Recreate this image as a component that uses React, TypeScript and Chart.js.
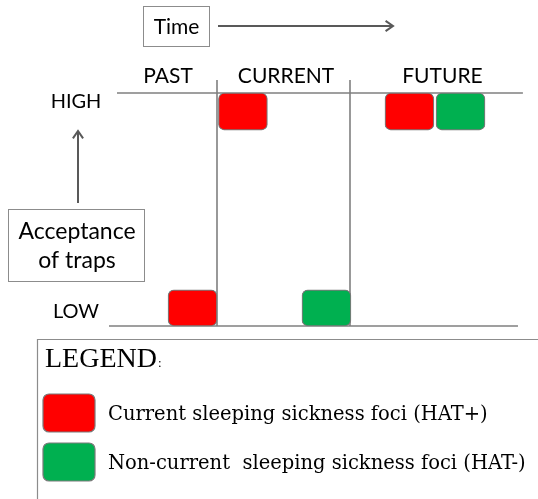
import React, { useEffect, useRef } from 'react';
import { Chart, registerables } from 'chart.js';

Chart.register(...registerables);

// ---- data (x: time, 1 and 2 are the period boundaries; y: acceptance of traps, 0 = LOW, 1 = HIGH)
const periods = ['PAST', 'CURRENT', 'FUTURE'];
const periodLabelX = [0.632, 1.519, 2.695];
const periodBoundaries = [1, 2];
const boundaryTop = 1.056;
const levels = ['LOW', 'HIGH'];
const levelValues = [0, 1];
const highLineX = [0.248, 3.3];
const lowLineX = [0.188, 3.263];

const hatPositiveLabel = 'Current sleeping sickness foci (HAT+)';
const hatPositiveX = [0.816, 1.195, 2.447];
const hatPositiveY = [[0, 0.155], [0.841, 1], [0.841, 1]];

const hatNegativeLabel = 'Non-current  sleeping sickness foci (HAT-)';
const hatNegativeX = [1.823, 2.831];
const hatNegativeY = [[0, 0.155], [0.841, 1]];

const timeTitle = 'Time';
const acceptanceTitle = ['Acceptance', 'of traps'];
const legendTitle = 'LEGEND';

// ---- layout / style
const W = 538;
const H = 499;
const PX_X = 133; // pixels per time unit
const PX_Y = 233; // pixels per acceptance unit
const X_MIN = 1 - 217 / PX_X;
const X_MAX = X_MIN + W / PX_X;
const Y_MAX = 326 / PX_Y;
const Y_MIN = Y_MAX - H / PX_Y;
const RED = '#FF0000';
const GREEN = '#00B050';
const LINE = '#7f7f7f';
const SANS = 'Lato, "Open Sans", sans-serif';
const SERIF = '"DejaVu Serif", "Liberation Serif", serif';
const TITLE_SERIF = '"Liberation Serif", "DejaVu Serif", serif';

function arrow(ctx: CanvasRenderingContext2D, x1: number, y1: number, x2: number, y2: number) {
  const a = Math.atan2(y2 - y1, x2 - x1);
  const L = 9;
  ctx.beginPath();
  ctx.moveTo(x1, y1);
  ctx.lineTo(x2, y2);
  ctx.moveTo(x2 - L * Math.cos(a - 0.6), y2 - L * Math.sin(a - 0.6));
  ctx.lineTo(x2, y2);
  ctx.lineTo(x2 - L * Math.cos(a + 0.6), y2 - L * Math.sin(a + 0.6));
  ctx.stroke();
}

function roundBox(ctx: CanvasRenderingContext2D, x: number, y: number, w: number, h: number, fill: string) {
  ctx.beginPath();
  (ctx as any).roundRect(x, y, w, h, 6);
  ctx.fillStyle = fill;
  ctx.fill();
  ctx.lineWidth = 1.2;
  ctx.strokeStyle = '#7a7a7a';
  ctx.stroke();
}

const annotations = {
  id: 'annotations',
  afterDraw(chart: any) {
    const ctx: CanvasRenderingContext2D = chart.ctx;
    const xs = chart.scales.x;
    const ys = chart.scales.y;
    ctx.save();

    // Time box + arrow
    ctx.strokeStyle = '#8c8c8c';
    ctx.lineWidth = 1;
    ctx.strokeRect(143.5, 6.5, 66, 40);
    ctx.fillStyle = '#000';
    ctx.font = `21px ${SANS}`;
    ctx.textAlign = 'center';
    ctx.textBaseline = 'alphabetic';
    ctx.fillText(timeTitle, 176.5, 34);
    ctx.strokeStyle = '#595959';
    ctx.lineWidth = 2;
    arrow(ctx, 218, 26, 393, 26);

    // period labels
    ctx.fillStyle = '#000';
    ctx.font = `21px ${SANS}`;
    periods.forEach((p, i) => {
      ctx.fillText(p, xs.getPixelForValue(periodLabelX[i]), ys.getPixelForValue(1) - 10);
    });

    // level labels
    ctx.font = `20px ${SANS}`;
    levels.forEach((l, i) => {
      ctx.fillText(l, xs.getPixelForValue(-0.06), ys.getPixelForValue(levelValues[i]) + (i === 1 ? 15 : -8));
    });

    // acceptance arrow + box
    ctx.strokeStyle = '#595959';
    ctx.lineWidth = 2;
    arrow(ctx, 78, 203, 78, 131);
    ctx.strokeStyle = '#8c8c8c';
    ctx.lineWidth = 1;
    ctx.strokeRect(8.5, 209.5, 136, 72);
    ctx.fillStyle = '#000';
    ctx.font = `23px ${SANS}`;
    ctx.fillText(acceptanceTitle[0], 77, 239);
    ctx.fillText(acceptanceTitle[1], 77, 268);

    // legend
    ctx.strokeStyle = '#8c8c8c';
    ctx.lineWidth = 1.2;
    ctx.beginPath();
    ctx.moveTo(37.5, H);
    ctx.lineTo(37.5, 339.5);
    ctx.lineTo(W, 339.5);
    ctx.stroke();
    ctx.textAlign = 'left';
    ctx.font = `28px ${TITLE_SERIF}`;
    ctx.fillText(legendTitle, 45, 367);
    const tw = ctx.measureText(legendTitle).width;
    ctx.font = `13px ${TITLE_SERIF}`;
    ctx.fillText(':', 45 + tw + 1, 367);
    const ds = chart.data.datasets.filter((d: any) => d.type === 'bar');
    ds.forEach((d: any, i: number) => {
      const top = 394 + i * 49;
      roundBox(ctx, 43, top, 52, 38, d.backgroundColor);
      ctx.fillStyle = '#000';
      ctx.font = `19.5px ${SERIF}`;
      ctx.fillText(d.label, 108, top + 26);
    });
    ctx.restore();
  },
};

function lineDataset(points: { x: number; y: number }[]) {
  return {
    type: 'line' as const,
    label: '',
    data: points,
    borderColor: LINE,
    borderWidth: 1.6,
    pointRadius: 0,
    fill: false,
    order: 2,
  };
}

export default function App() {
  const ref = useRef<HTMLCanvasElement>(null);
  useEffect(() => {
    if (!ref.current) return;
    const barStyle = {
      type: 'bar' as const,
      grouped: false,
      barThickness: 49,
      borderRadius: 6,
      borderSkipped: false,
      borderWidth: 1.2,
      borderColor: '#7a7a7a',
      order: 1,
    };
    const chart = new Chart(ref.current, {
      type: 'bar',
      data: {
        datasets: [
          lineDataset([{ x: highLineX[0], y: levelValues[1] }, { x: highLineX[1], y: levelValues[1] }]),
          lineDataset([{ x: lowLineX[0], y: levelValues[0] }, { x: lowLineX[1], y: levelValues[0] }]),
          ...periodBoundaries.map((b) => lineDataset([{ x: b, y: levelValues[0] }, { x: b, y: boundaryTop }])),
          {
            ...barStyle,
            label: hatPositiveLabel,
            backgroundColor: RED,
            data: hatPositiveX.map((x, i) => ({ x, y: hatPositiveY[i] })) as any,
          },
          {
            ...barStyle,
            label: hatNegativeLabel,
            backgroundColor: GREEN,
            data: hatNegativeX.map((x, i) => ({ x, y: hatNegativeY[i] })) as any,
          },
        ] as any,
      },
      options: {
        animation: false,
        responsive: false,
        layout: { padding: 0 },
        plugins: { legend: { display: false }, tooltip: { enabled: false } },
        scales: {
          x: { type: 'linear', min: X_MIN, max: X_MAX, offset: false, display: false },
          y: { type: 'linear', min: Y_MIN, max: Y_MAX, display: false },
        },
      },
      plugins: [annotations],
    });
    return () => chart.destroy();
  }, []);
  return (
    <div style={{ position: 'absolute', left: 0, top: 0, width: W, height: H, background: '#fff' }}>
      <canvas ref={ref} width={W} height={H} />
    </div>
  );
}
